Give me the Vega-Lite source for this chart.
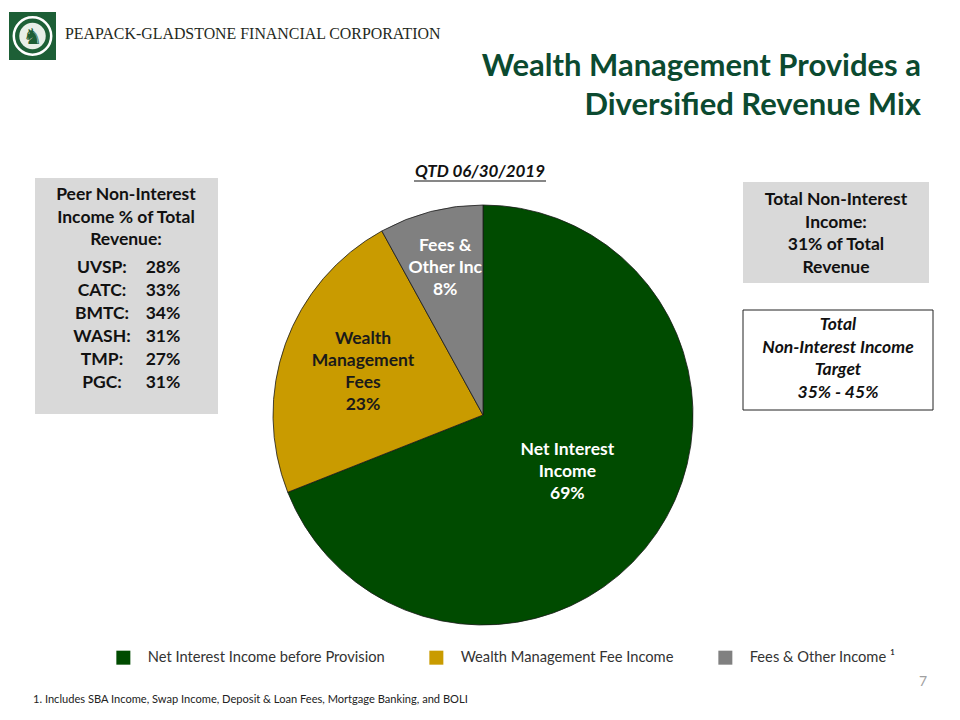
{
  "$schema": "https://vega.github.io/schema/vega-lite/v6.json",
  "width": 960,
  "height": 720,
  "autosize": {"type": "fit", "contains": "padding"},
  "padding": 0,
  "background": "white",
  "config": {"view": {"stroke": null}, "font": "Lato", "text": {"font": "Lato"}},
  "layer": [
    {
      "data": {"values": [{}]},
      "mark": {"type": "rect", "fill": "#1D5F36"},
      "encoding": {
        "x": {"datum": 9, "type": "quantitative", "scale": {"domain": [0, 960], "nice": false, "zero": false}, "axis": null},
        "x2": {"datum": 56},
        "y": {"datum": 12, "type": "quantitative", "scale": {"domain": [0, 720], "reverse": true, "nice": false, "zero": false}, "axis": null},
        "y2": {"datum": 60}
      }
    },
    {
      "data": {"values": [{}]},
      "mark": {"type": "point", "shape": "circle", "filled": false, "stroke": "white", "strokeWidth": 2.5, "size": 1400, "opacity": 1},
      "encoding": {
        "x": {"datum": 32.5, "type": "quantitative", "axis": null},
        "y": {"datum": 36, "type": "quantitative", "axis": null}
      }
    },
    {
      "data": {"values": [{}]},
      "mark": {"type": "point", "shape": "circle", "filled": true, "fill": "#E8EFE8", "strokeWidth": 0, "size": 700, "opacity": 1},
      "encoding": {
        "x": {"datum": 32.5, "type": "quantitative", "axis": null},
        "y": {"datum": 36, "type": "quantitative", "axis": null}
      }
    },
    {
      "data": {"values": [{}]},
      "mark": {"type": "text", "text": "♞", "fontSize": 22, "color": "#1D5F36", "align": "center", "baseline": "middle", "font": "DejaVu Sans"},
      "encoding": {
        "x": {"datum": 32.5, "type": "quantitative", "axis": null},
        "y": {"datum": 37, "type": "quantitative", "axis": null}
      }
    },
    {
      "data": {"values": [{}]},
      "mark": {"type": "text", "text": "PEAPACK-GLADSTONE FINANCIAL CORPORATION", "font": "Liberation Serif", "fontSize": 15.9, "color": "#1F2A22", "align": "left", "baseline": "middle"},
      "encoding": {
        "x": {"datum": 65, "type": "quantitative", "axis": null},
        "y": {"datum": 34, "type": "quantitative", "axis": null}
      }
    },
    {
      "data": {"values": [{}]},
      "mark": {"type": "text", "text": ["Wealth Management Provides a", "Diversified Revenue Mix"], "fontSize": 31, "fontWeight": "bold", "color": "#0B4A30", "align": "right", "baseline": "middle", "lineHeight": 39},
      "encoding": {
        "x": {"datum": 921, "type": "quantitative", "axis": null},
        "y": {"datum": 67, "type": "quantitative", "axis": null}
      }
    },
    {
      "data": {"values": [{}]},
      "mark": {"type": "text", "text": "QTD 06/30/2019", "fontSize": 17, "fontWeight": "bold", "fontStyle": "italic", "color": "#111111", "align": "center", "baseline": "middle"},
      "encoding": {
        "x": {"datum": 480, "type": "quantitative", "axis": null},
        "y": {"datum": 172, "type": "quantitative", "axis": null}
      }
    },
    {
      "data": {"values": [{}]},
      "mark": {"type": "rule", "color": "#111111", "strokeWidth": 1.2},
      "encoding": {
        "x": {"datum": 414, "type": "quantitative", "axis": null},
        "x2": {"datum": 546},
        "y": {"datum": 181, "type": "quantitative", "axis": null}
      }
    },
    {
      "data": {"values": [{}]},
      "mark": {"type": "rect", "fill": "#D9D9D9"},
      "encoding": {
        "x": {"datum": 35, "type": "quantitative", "axis": null},
        "x2": {"datum": 218},
        "y": {"datum": 178, "type": "quantitative", "axis": null},
        "y2": {"datum": 414}
      }
    },
    {
      "data": {"values": [{}]},
      "mark": {"type": "text", "text": ["Peer Non-Interest", "Income % of Total", "Revenue:"], "fontSize": 17.5, "fontWeight": "bold", "color": "#111111", "align": "center", "baseline": "middle", "lineHeight": 22.5},
      "encoding": {
        "x": {"datum": 126, "type": "quantitative", "axis": null},
        "y": {"datum": 195, "type": "quantitative", "axis": null}
      }
    },
    {
      "data": {"values": [{}]},
      "mark": {"type": "text", "text": ["UVSP:", "CATC:", "BMTC:", "WASH:", "TMP:", "PGC:"], "fontSize": 17.5, "fontWeight": "bold", "color": "#111111", "align": "center", "baseline": "middle", "lineHeight": 23},
      "encoding": {
        "x": {"datum": 102, "type": "quantitative", "axis": null},
        "y": {"datum": 268, "type": "quantitative", "axis": null}
      }
    },
    {
      "data": {"values": [{}]},
      "mark": {"type": "text", "text": ["28%", "33%", "34%", "31%", "27%", "31%"], "fontSize": 17.5, "fontWeight": "bold", "color": "#111111", "align": "center", "baseline": "middle", "lineHeight": 23},
      "encoding": {
        "x": {"datum": 163, "type": "quantitative", "axis": null},
        "y": {"datum": 268, "type": "quantitative", "axis": null}
      }
    },
    {
      "data": {"values": [{}]},
      "mark": {"type": "rect", "fill": "#D9D9D9"},
      "encoding": {
        "x": {"datum": 743, "type": "quantitative", "axis": null},
        "x2": {"datum": 929},
        "y": {"datum": 182, "type": "quantitative", "axis": null},
        "y2": {"datum": 283}
      }
    },
    {
      "data": {"values": [{}]},
      "mark": {"type": "text", "text": ["Total Non-Interest", "Income:", "31% of Total", "Revenue"], "fontSize": 17.5, "fontWeight": "bold", "color": "#111111", "align": "center", "baseline": "middle", "lineHeight": 22.7},
      "encoding": {
        "x": {"datum": 836, "type": "quantitative", "axis": null},
        "y": {"datum": 200, "type": "quantitative", "axis": null}
      }
    },
    {
      "data": {"values": [{}]},
      "mark": {"type": "rect", "fill": "white", "stroke": "#222222", "strokeWidth": 1},
      "encoding": {
        "x": {"datum": 743, "type": "quantitative", "axis": null},
        "x2": {"datum": 933},
        "y": {"datum": 310, "type": "quantitative", "axis": null},
        "y2": {"datum": 410}
      }
    },
    {
      "data": {"values": [{}]},
      "mark": {"type": "text", "text": ["Total", "Non-Interest Income", "Target", "35% - 45%"], "fontSize": 17.5, "fontWeight": "bold", "fontStyle": "italic", "color": "#111111", "align": "center", "baseline": "middle", "lineHeight": 22.7},
      "encoding": {
        "x": {"datum": 838, "type": "quantitative", "axis": null},
        "y": {"datum": 325, "type": "quantitative", "axis": null}
      }
    },
    {
      "data": {"values": [
        {"segment": "Net Interest Income before Provision", "label": "Net Interest\nIncome\n69%", "value": 69, "ord": 1},
        {"segment": "Wealth Management Fee Income", "label": "Wealth\nManagement\nFees\n23%", "value": 23, "ord": 2},
        {"segment": "Fees & Other Income", "label": "Fees &\nOther Inc\n8%", "value": 8, "ord": 3}
      ]},
      "layer": [
        {
          "mark": {"type": "arc", "outerRadius": 210, "stroke": "#1A1A1A", "strokeWidth": 0.8},
          "encoding": {
            "x": {"datum": 483, "type": "quantitative", "axis": null},
            "y": {"datum": 415, "type": "quantitative", "axis": null},
            "theta": {"field": "value", "type": "quantitative", "stack": true},
            "order": {"field": "ord", "type": "quantitative"},
            "color": {
              "field": "segment",
              "type": "nominal",
              "scale": {
                "domain": ["Net Interest Income before Provision", "Wealth Management Fee Income", "Fees & Other Income"],
                "range": ["#004B00", "#C99B00", "#808080"]
              },
              "legend": {
                "orient": "none",
                "legendX": 116,
                "legendY": 650,
                "direction": "horizontal",
                "title": null,
                "padding": 0,
                "symbolType": "square",
                "symbolSize": 196,
                "symbolStrokeWidth": 0,
                "symbolOpacity": 1,
                "labelFont": "Lato",
                "labelFontSize": 14.7,
                "labelColor": "#333333",
                "labelOffset": 17,
                "columnPadding": 44,
                "labelLimit": 400,
                "labelExpr": "datum.label == 'Fees & Other Income' ? datum.label + ' ¹' : datum.label"
              }
            }
          }
        },
        {
          "mark": {"type": "text", "fontSize": 17.5, "fontWeight": "bold", "lineBreak": "\n", "lineHeight": 22, "align": "center", "baseline": "middle", "dy": -22},
          "encoding": {
            "x": {"datum": 483, "type": "quantitative", "axis": null},
            "y": {"datum": 415, "type": "quantitative", "axis": null},
            "theta": {"field": "value", "type": "quantitative", "stack": true},
            "order": {"field": "ord", "type": "quantitative"},
            "detail": {"field": "segment", "type": "nominal"},
            "radius": {"field": "value", "type": "quantitative", "scale": {"type": "log", "domain": [8, 69], "range": [152, 102]}},
            "text": {"field": "label"},
            "color": {"value": "white"},
            "opacity": {"condition": {"test": "datum.segment == 'Wealth Management Fee Income'", "value": 0}, "value": 1}
          }
        },
        {
          "mark": {"type": "text", "fontSize": 17.5, "fontWeight": "bold", "lineBreak": "\n", "lineHeight": 22, "align": "center", "baseline": "middle", "dy": -33},
          "encoding": {
            "x": {"datum": 483, "type": "quantitative", "axis": null},
            "y": {"datum": 415, "type": "quantitative", "axis": null},
            "theta": {"field": "value", "type": "quantitative", "stack": true},
            "order": {"field": "ord", "type": "quantitative"},
            "detail": {"field": "segment", "type": "nominal"},
            "radius": {"field": "value", "type": "quantitative", "scale": {"type": "log", "domain": [8, 69], "range": [152, 102]}},
            "text": {"field": "label"},
            "color": {"value": "#1A1A1A"},
            "opacity": {"condition": {"test": "datum.segment == 'Wealth Management Fee Income'", "value": 1}, "value": 0}
          }
        }
      ]
    },
    {
      "data": {"values": [{}]},
      "mark": {"type": "text", "text": "1. Includes SBA Income, Swap Income, Deposit & Loan Fees, Mortgage Banking, and BOLI", "fontSize": 11.1, "color": "#222222", "align": "left", "baseline": "middle"},
      "encoding": {
        "x": {"datum": 33, "type": "quantitative", "axis": null},
        "y": {"datum": 700, "type": "quantitative", "axis": null}
      }
    },
    {
      "data": {"values": [{}]},
      "mark": {"type": "text", "text": "7", "fontSize": 14, "color": "#A0A0A0", "align": "center", "baseline": "middle"},
      "encoding": {
        "x": {"datum": 923, "type": "quantitative", "axis": null},
        "y": {"datum": 682, "type": "quantitative", "axis": null}
      }
    }
  ]
}
